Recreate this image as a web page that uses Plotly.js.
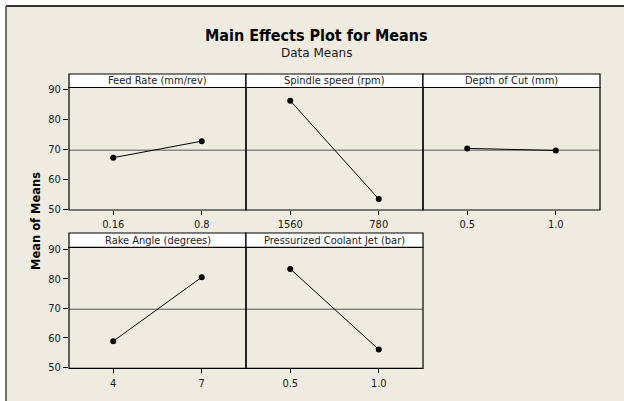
<!DOCTYPE html>
<html>
<head>
<meta charset="utf-8">
<script src="https://cdn.plot.ly/plotly-3.0.1.min.js"></script>
<style>html,body{margin:0;padding:0;background:#fff;}#chart{width:624px;height:401px;}</style>
</head>
<body>
<div id="chart"></div>
<script>
// ---- data ----
const factorNames = ["Feed Rate (mm/rev)", "Spindle speed (rpm)", "Depth of Cut (mm)", "Rake Angle (degrees)", "Pressurized Coolant Jet (bar)"];
const feedLevels = ["0.16", "0.8"];
const feedMeans = [67.2, 72.7];
const spindleLevels = ["1560", "780"];
const spindleMeans = [86.2, 53.4];
const depthLevels = ["0.5", "1.0"];
const depthMeans = [70.3, 69.6];
const rakeLevels = ["4", "7"];
const rakeMeans = [58.9, 80.5];
const coolantLevels = ["0.5", "1.0"];
const coolantMeans = [83.3, 56.1];
const grandMean = [69.7];
const yTicks = [50, 60, 70, 80, 90];

const levelSets = [feedLevels, spindleLevels, depthLevels, rakeLevels, coolantLevels];
const meanSets = [feedMeans, spindleMeans, depthMeans, rakeMeans, coolantMeans];

// ---- layout geometry (pixels) ----
const W = 624, H = 401;
const X = p => p / W;
const Y = p => 1 - p / H;
const panels = [
  {x0: 69, x1: 246, hTop: 74, top: 87.5, bottom: 210},
  {x0: 246, x1: 423, hTop: 74, top: 87.5, bottom: 210},
  {x0: 423, x1: 600, hTop: 74, top: 87.5, bottom: 210},
  {x0: 69, x1: 246, hTop: 233, top: 247.3, bottom: 368.3},
  {x0: 246, x1: 423, hTop: 233, top: 247.3, bottom: 368.3}
];
const FONT = "DejaVu Sans Condensed, Tahoma, sans-serif";
const FONT_W = "DejaVu Sans, Verdana, sans-serif";
const txt = "#1a1a1a";

const data = [];
const layout = {
  width: W, height: H,
  margin: {l: 0, r: 0, t: 0, b: 0},
  paper_bgcolor: "#ffffff",
  plot_bgcolor: "#ffffff",
  showlegend: false,
  font: {family: FONT, size: 11, color: txt},
  shapes: [],
  annotations: []
};

// background frame
layout.shapes.push({type: "rect", xref: "paper", yref: "paper", x0: X(6), x1: X(W + 2), y0: Y(H + 2), y1: Y(6),
  fillcolor: "#efebe1", line: {width: 0}, layer: "below"});
layout.shapes.push({type: "line", xref: "paper", yref: "paper", x0: X(6), x1: X(W), y0: Y(6), y1: Y(6),
  line: {color: "#333333", width: 2}});
layout.shapes.push({type: "line", xref: "paper", yref: "paper", x0: X(6), x1: X(6), y0: Y(6), y1: Y(H),
  line: {color: "#6e6e6e", width: 2}});

panels.forEach((p, i) => {
  const n = i + 1;
  const xa = n === 1 ? "x" : "x" + n;
  const ya = n === 1 ? "y" : "y" + n;
  const firstInRow = (i === 0 || i === 3);
  data.push({
    type: "scatter", mode: "lines+markers",
    x: levelSets[i], y: meanSets[i],
    xaxis: xa, yaxis: ya,
    line: {color: "#000000", width: 1},
    marker: {color: "#000000", size: 6},
    hoverinfo: "skip"
  });
  layout["xaxis" + (n === 1 ? "" : n)] = {
    domain: [X(p.x0), X(p.x1)],
    anchor: ya,
    type: "category",
    range: [-0.5, 1.5],
    showgrid: false, zeroline: false,
    showline: false,
    ticks: "outside", ticklen: 4, tickcolor: "#000000",
    tickfont: {family: FONT, size: 11, color: txt},
    fixedrange: true
  };
  layout["yaxis" + (n === 1 ? "" : n)] = {
    domain: [Y(p.bottom), Y(p.top)],
    anchor: xa,
    range: [49.75, 90.6],
    tickvals: yTicks,
    showgrid: false, zeroline: false,
    showline: false,
    ticks: firstInRow ? "outside" : "",
    ticklen: 5, tickcolor: "#000000",
    showticklabels: firstInRow,
    tickfont: {family: FONT, size: 11, color: txt},
    fixedrange: true
  };
  // reference line at grand mean
  layout.shapes.push({type: "line", xref: xa + " domain", yref: ya, x0: 0, x1: 1, y0: grandMean[0], y1: grandMean[0],
    line: {color: "#555555", width: 1}, layer: "below"});
  // panel border
  layout.shapes.push({type: "rect", xref: "paper", yref: "paper", x0: X(p.x0), x1: X(p.x1), y0: Y(p.bottom), y1: Y(p.top),
    fillcolor: "rgba(0,0,0,0)", line: {color: "#000000", width: 1.2}});
  // header box
  layout.shapes.push({type: "rect", xref: "paper", yref: "paper", x0: X(p.x0), x1: X(p.x1), y0: Y(p.top), y1: Y(p.hTop),
    fillcolor: "#ffffff", line: {color: "#000000", width: 1.2}});
  layout.annotations.push({xref: "paper", yref: "paper", x: X((p.x0 + p.x1) / 2), y: Y((p.hTop + p.top) / 2),
    xanchor: "center", yanchor: "middle", showarrow: false, text: factorNames[i],
    font: {family: FONT, size: 11, color: txt}});
});

// titles
layout.annotations.push({xref: "paper", yref: "paper", x: X(316), y: Y(35), xanchor: "center", yanchor: "middle",
  showarrow: false, text: "<b>Main Effects Plot for Means</b>", font: {family: FONT, size: 16, color: "#000"}});
layout.annotations.push({xref: "paper", yref: "paper", x: X(316), y: Y(53), xanchor: "center", yanchor: "middle",
  showarrow: false, text: "Data Means", font: {family: FONT_W, size: 12, color: txt}});
layout.annotations.push({xref: "paper", yref: "paper", x: X(36), y: Y(221), xanchor: "center", yanchor: "middle",
  showarrow: false, textangle: -90, text: "<b>Mean of Means</b>", font: {family: FONT_W, size: 11.5, color: "#000"}});

Plotly.newPlot("chart", data, layout, {displayModeBar: false, staticPlot: true});
</script>
</body>
</html>
